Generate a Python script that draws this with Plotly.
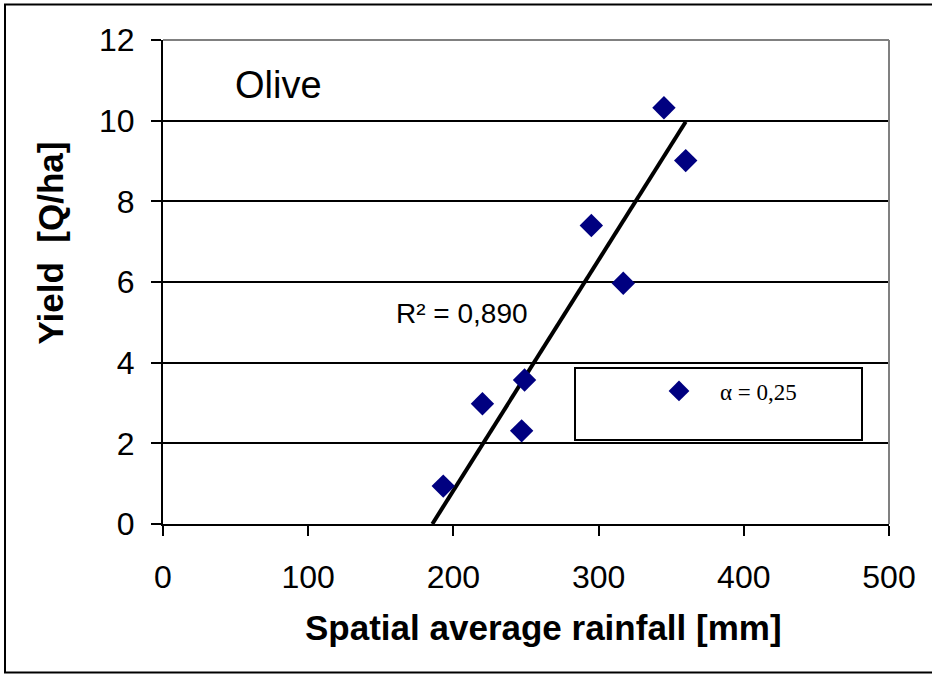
import numpy as np
import plotly.graph_objects as go

# ---- data ----
rainfall_mm = [193, 220, 247, 249, 295, 317, 345, 360]
yield_q_ha = [0.94, 2.98, 2.31, 3.57, 7.40, 5.97, 10.32, 9.01]
series_name = "α = 0,25"
crop_label = "Olive"
r2_label = "R² = 0,890"
trend_slope = 0.05715      # Q/ha per mm (drawn trend line)
trend_intercept = -10.60   # Q/ha
x_ticks = [0, 100, 200, 300, 400, 500]
y_ticks = [0, 2, 4, 6, 8, 10, 12]
x_title = "Spatial average rainfall [mm]"
y_title = "Yield  [Q/ha]"

# ---- layout geometry (pixels) ----
W, H = 932, 678
ML, MR, MT, MB = 163, 43, 40, 154
PW, PH = W - ML - MR, H - MT - MB


def px_x(p):
    return (p - ML) / PW


def px_y(p):
    return (H - MB - p) / PH


x_start = -trend_intercept / trend_slope
x_end = max(rainfall_mm)
trend_x = np.array([x_start, x_end])
trend_y = trend_slope * trend_x + trend_intercept

fig = go.Figure()
fig.add_trace(go.Scatter(
    x=trend_x, y=trend_y, mode="lines",
    line=dict(color="black", width=4),
    showlegend=False, hoverinfo="skip",
))
fig.add_trace(go.Scatter(
    x=rainfall_mm, y=yield_q_ha, mode="markers", name=series_name,
    marker=dict(symbol="diamond", size=18, color="#000080",
                line=dict(width=0)),
))

fig.update_layout(
    width=W, height=H,
    margin=dict(l=ML, r=MR, t=MT, b=MB, pad=0),
    paper_bgcolor="white", plot_bgcolor="white",
    font=dict(family="Liberation Sans, Arial, sans-serif", color="black"),
    showlegend=True,
    legend=dict(
        x=px_x(638), y=px_y(391), xanchor="left", yanchor="middle",
        bgcolor="rgba(0,0,0,0)", borderwidth=0, itemwidth=72,
        font=dict(family="Liberation Serif, Times New Roman, serif", size=23, color="black"),
    ),
    xaxis=dict(
        range=[0, 500], tickvals=x_ticks, showgrid=False, zeroline=False,
        showline=True, linecolor="black", linewidth=2,
        ticks="outside", ticklen=10, tickwidth=2, tickcolor="black",
        tickfont=dict(size=32), ticklabelstandoff=14,
    ),
    yaxis=dict(
        range=[0, 12], tickvals=y_ticks, showgrid=True, gridcolor="black", gridwidth=2,
        zeroline=False, showline=True, linecolor="black", linewidth=2,
        ticks="outside", ticklen=10, tickwidth=2, tickcolor="black",
        tickfont=dict(size=32), ticklabelstandoff=10,
    ),
)

shapes = [
    # plot-area top & right borders (grey)
    dict(type="line", xref="paper", yref="paper", x0=0, x1=1, y0=1, y1=1,
         line=dict(color="#808080", width=2), layer="above"),
    dict(type="line", xref="paper", yref="paper", x0=1, x1=1, y0=0, y1=1,
         line=dict(color="#808080", width=2), layer="above"),
    # legend box
    dict(type="rect", xref="paper", yref="paper",
         x0=px_x(575), x1=px_x(862), y0=px_y(440), y1=px_y(368),
         line=dict(color="black", width=2), fillcolor="white", layer="below"),
    # outer frame
    dict(type="rect", xref="paper", yref="paper",
         x0=px_x(5), x1=px_x(940), y0=px_y(672.5), y1=px_y(4.5),
         line=dict(color="black", width=2), layer="below"),
]
fig.update_layout(shapes=shapes)

annotations = [
    dict(text=crop_label, x=px_x(233), y=px_y(85), xref="paper", yref="paper",
         xanchor="left", yanchor="middle", showarrow=False, font=dict(size=38)),
    dict(text=r2_label, x=px_x(462), y=px_y(313), xref="paper", yref="paper",
         xanchor="center", yanchor="middle", showarrow=False, font=dict(size=28)),
    dict(text="<b>" + x_title + "</b>", x=px_x(543), y=px_y(627), xref="paper", yref="paper",
         xanchor="center", yanchor="middle", showarrow=False, font=dict(size=35)),
    dict(text="<b>" + y_title + "</b>", x=px_x(50), y=px_y(243.5), xref="paper", yref="paper",
         xanchor="center", yanchor="middle", showarrow=False, textangle=-90,
         font=dict(size=35)),
]
fig.update_layout(annotations=annotations)

fig.write_html("out.html")
